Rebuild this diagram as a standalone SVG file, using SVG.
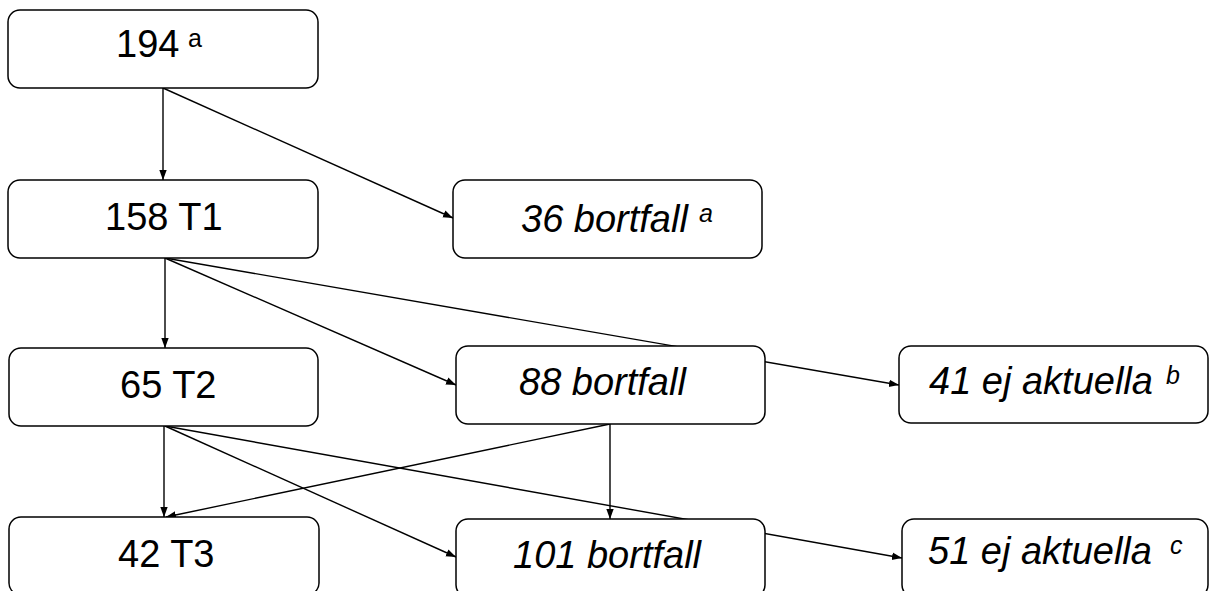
<svg xmlns="http://www.w3.org/2000/svg" width="1210" height="591" viewBox="0 0 1210 591">
<defs>
<marker id="arr" markerUnits="userSpaceOnUse" markerWidth="11" markerHeight="9" refX="10" refY="4.5" orient="auto">
<path d="M0,0.8 L10,4.5 L0,8.2 Z" fill="#000"/>
</marker>
<style>
.box{fill:#fff;stroke:#000;stroke-width:1.5}
.c{fill:none;stroke:#000;stroke-width:1.4;marker-end:url(#arr)}
.t{font-family:"Liberation Sans",Arial,sans-serif;font-size:38px;fill:#000}
.i{font-style:italic}
.s{font-family:"Liberation Sans",Arial,sans-serif;font-size:25px;fill:#000}
</style>
</defs>
<rect width="1210" height="591" fill="#fff"/>
<g id="connectors">
<line class="c" x1="163" y1="88" x2="163" y2="180"/>
<line class="c" x1="163" y1="88" x2="453" y2="218"/>
<line class="c" x1="165" y1="258" x2="165" y2="348"/>
<line class="c" x1="165" y1="258" x2="456" y2="385"/>
<line class="c" x1="165" y1="258" x2="899" y2="385"/>
<line class="c" x1="164" y1="426" x2="164" y2="517"/>
<line class="c" x1="165" y1="426" x2="456" y2="557"/>
<line class="c" x1="165" y1="426" x2="902" y2="558"/>
<line class="c" x1="610" y1="424" x2="166" y2="517"/>
<line class="c" x1="610" y1="424" x2="610" y2="519"/>
</g>
<g id="n194">
<rect class="box" x="8" y="10" width="310" height="78" rx="12"/>
<text class="t" x="116" y="57">194</text><text class="s" x="188" y="47">a</text>
</g>
<g id="n158">
<rect class="box" x="8" y="180" width="310" height="78" rx="12"/>
<text class="t" x="105" y="230">158 T1</text>
</g>
<g id="n65">
<rect class="box" x="9" y="348" width="309" height="78" rx="12"/>
<text class="t" x="120" y="398">65 T2</text>
</g>
<g id="n42">
<rect class="box" x="9" y="517" width="310" height="78" rx="12"/>
<text class="t" x="118" y="567">42 T3</text>
</g>
<g id="n36">
<rect class="box" x="453" y="180" width="309" height="78" rx="12"/>
<text class="t i" x="521" y="232">36 bortfall</text><text class="s i" x="699" y="222">a</text>
</g>
<g id="n88">
<rect class="box" x="456" y="346" width="309" height="78" rx="12"/>
<text class="t i" x="519" y="395">88 bortfall</text>
</g>
<g id="n41">
<rect class="box" x="899" y="346" width="309" height="77" rx="12"/>
<text class="t i" x="929" y="394">41 ej aktuella</text><text class="s i" x="1166" y="384">b</text>
</g>
<g id="n101">
<rect class="box" x="456" y="519" width="309" height="78" rx="12"/>
<text class="t i" x="513" y="568">101 bortfall</text>
</g>
<g id="n51">
<rect class="box" x="902" y="519" width="306" height="78" rx="12"/>
<text class="t i" x="928" y="564">51 ej aktuella</text><text class="s i" x="1170" y="554">c</text>
</g>
</svg>
